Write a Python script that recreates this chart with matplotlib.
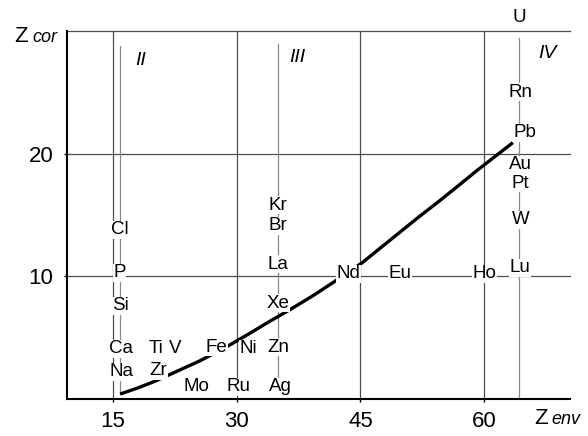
import numpy as np
import matplotlib.pyplot as plt

plt.rcParams['font.family'] = ['Liberation Sans', 'DejaVu Sans']

# curve Z_cor(Z_env)
curve_x = [15.85, 18.0, 20.1, 21.9, 25.5, 28.5, 31.2, 33.8, 36.5, 39.2, 41.7, 45.2,
           47.5, 49.8, 52.2, 54.6, 57.0, 59.0, 61.3, 63.5]
curve_y = [0.4, 0.9, 1.45, 2.0, 3.1, 4.15, 5.2, 6.25, 7.3, 8.4, 9.5, 11.1,
           12.35, 13.6, 14.9, 16.15, 17.45, 18.55, 19.75, 20.9]

# element labels: name, x, y
elements = ['Cl', 'P', 'Si', 'Ca', 'Na', 'Ti', 'V', 'Zr', 'Mo', 'Fe', 'Ru', 'Ni',
            'Kr', 'Br', 'La', 'Xe', 'Zn', 'Ag', 'Nd', 'Eu', 'Ho',
            'U', 'Rn', 'Pb', 'Au', 'Pt', 'W', 'Lu']
elem_x = [15.85, 15.75, 15.85, 16.0, 16.0, 20.2, 22.5, 20.5, 25.1, 27.5, 30.2, 31.4,
          35.0, 35.0, 35.0, 35.0, 35.0, 35.3, 43.5, 49.8, 60.0,
          64.3, 64.4, 64.9, 64.4, 64.4, 64.4, 64.4]
elem_y = [13.8, 10.3, 7.6, 4.1, 2.2, 4.1, 4.1, 2.3, 1.0, 4.2, 1.0, 4.1,
          15.8, 14.1, 11.0, 7.8, 4.2, 1.0, 10.2, 10.2, 10.2,
          31.1, 25.0, 21.7, 19.1, 17.6, 14.6, 10.7]

# group lines II, III, IV
groups = ['II', 'III', 'IV']
group_x = [15.8, 35.0, 64.3]
group_top = [28.8, 28.9, 29.4]
group_bottom = [0.4, 1.8, 0.0]
group_lbl_x = [18.3, 37.3, 67.7]
group_lbl_y = [27.6, 27.8, 28.2]

xticks = [15, 30, 45, 60]
yticks = [10, 20]

fig = plt.figure(figsize=(5.88, 4.36), dpi=100)
ax = fig.add_axes([0.114, 0.085, 0.855, 0.844])
ax.set_xlim(9.4, 70.4)
ax.set_ylim(0, 30)

for s in ['top', 'right']:
    ax.spines[s].set_visible(False)
for s in ['left', 'bottom']:
    ax.spines[s].set_linewidth(1.5)

# grid
for x in xticks:
    ax.plot([x, x], [0, 30], color='#4d4d4d', lw=0.9, zorder=1)
for y in [10, 20, 30]:
    ax.plot([9.4, 70.4], [y, y], color='#4d4d4d', lw=0.9, zorder=1, clip_on=False)

for gx, gt, gb in zip(group_x, group_top, group_bottom):
    ax.plot([gx, gx], [gb, gt], color='#888888', lw=0.9, zorder=1)
for g, lx, ly in zip(groups, group_lbl_x, group_lbl_y):
    ax.text(lx, ly, g, fontsize=14, style='italic', ha='center', va='center')

ax.plot(curve_x, curve_y, color='black', lw=2.4, zorder=2, solid_capstyle='butt')

for name, x, y in zip(elements, elem_x, elem_y):
    ax.text(x, y, name, fontsize=13.5, ha='center', va='center', zorder=3, clip_on=False,
            bbox=dict(facecolor='white', edgecolor='none', pad=0.4))

ax.set_xticks(xticks)
ax.set_yticks(yticks)
ax.tick_params(length=2, width=1, labelsize=16)
ax.tick_params(axis='x', pad=7)
ax.tick_params(axis='y', pad=8)

fig.text(21 / 588, 1 - 37 / 436, 'Z', fontsize=16, ha='center', va='center')
fig.text(32 / 588, 1 - 38 / 436, 'cor', fontsize=13, style='italic', ha='left', va='center')
fig.text(541 / 588, 1 - 418 / 436, 'Z', fontsize=16, ha='center', va='center')
fig.text(551 / 588, 1 - 419 / 436, 'env', fontsize=13, style='italic', ha='left', va='center')

fig.savefig('out.png', dpi=100)
